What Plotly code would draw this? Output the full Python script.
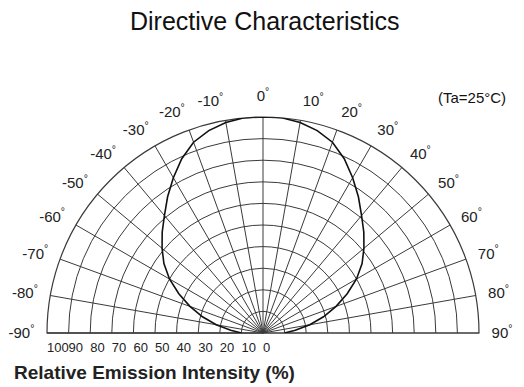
import plotly.graph_objects as go

# Directivity curve (angle in degrees, relative intensity in %)
angles = [-90, -85, -80, -75, -70, -65, -60, -55, -50, -45, -40, -35, -30, -25, -20, -15, -10, -5,
          0, 5, 10, 15, 20, 25, 30, 35, 40, 45, 50, 55, 60, 65, 70, 75, 80, 85, 90]
intensity = [10, 15, 22, 29, 36, 43, 50, 56, 61, 66, 71, 77, 83, 89, 94, 97, 99, 100,
             100, 100, 99, 97, 94, 89, 83, 77, 71, 66, 61, 56, 50, 43, 36, 29, 22, 15, 10]

angle_ticks = list(range(-90, 91, 10))
angle_labels = [f"{a}<sup>°</sup>" for a in angle_ticks]
radial_ticks = list(range(0, 101, 10))
radial_labels = [str(v) for v in radial_ticks]

title_text = "Directive Characteristics"
cond_text = "(Ta=25°C)"
xlabel_text = "Relative Emission Intensity (%)"

grid_col = "#3a3a3a"
font_fam = "Liberation Sans, Arial, sans-serif"

fig = go.Figure()
fig.add_trace(go.Scatterpolar(
    r=intensity, theta=angles, mode="lines",
    line=dict(color="#111111", width=1.6),
    showlegend=False, hoverinfo="skip",
))

fig.update_layout(
    width=524, height=387,
    margin=dict(l=0, r=0, t=0, b=0),
    paper_bgcolor="white",
    plot_bgcolor="white",
    font=dict(family=font_fam, color="#111111"),
    polar=dict(
        domain=dict(x=[47 / 524, 479 / 524], y=[54 / 387, 270 / 387]),
        sector=[0, 180],
        bgcolor="white",
        angularaxis=dict(
            rotation=90, direction="clockwise",
            tickmode="array", tickvals=angle_ticks, ticktext=angle_labels,
            showgrid=True, gridcolor=grid_col, gridwidth=1,
            showline=True, linecolor=grid_col, linewidth=1.2,
            ticks="outside", ticklen=9, tickcolor="rgba(0,0,0,0)",
            tickfont=dict(size=15, color="#222222"),
            layer="below traces",
        ),
        radialaxis=dict(
            range=[0, 100], angle=180, side="counterclockwise",
            tickmode="array", tickvals=radial_ticks, ticktext=radial_labels,
            showgrid=True, gridcolor=grid_col, gridwidth=1,
            showline=True, linecolor=grid_col, linewidth=1.2,
            ticks="", tickangle=180, tickfont=dict(size=13, color="#222222"),
            layer="below traces",
        ),
    ),
    annotations=[
        dict(text=title_text, x=265 / 524, y=1 - 21 / 387, xref="paper", yref="paper",
             showarrow=False, xanchor="center", yanchor="middle",
             font=dict(size=25, color="#111111")),
        dict(text=cond_text, x=472 / 524, y=1 - 98 / 387, xref="paper", yref="paper",
             showarrow=False, xanchor="center", yanchor="middle",
             font=dict(size=15, color="#111111")),
        dict(text=f"<b>{xlabel_text}</b>", x=12 / 524, y=1 - 372 / 387, xref="paper", yref="paper",
             showarrow=False, xanchor="left", yanchor="middle",
             font=dict(size=19, color="#222222")),
    ],
)

fig.write_html("out.html")
